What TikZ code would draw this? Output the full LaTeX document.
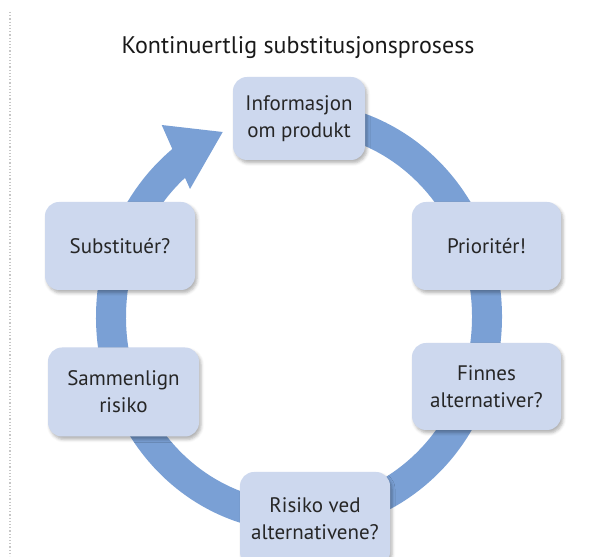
\documentclass[tikz,border=0pt]{standalone}
\usepackage{fontspec}
\setmainfont{PT Sans}
\usetikzlibrary{shadows.blur}
\definecolor{bandblue}{RGB}{122,160,213}
\definecolor{boxfill}{RGB}{205,216,238}
\begin{document}
\begin{tikzpicture}[x=1pt,y=1pt,
  stage/.style={draw=none, fill=boxfill, rounded corners=14pt, align=center,
    inner sep=0pt, font=\fontsize{21}{27}\selectfont, text=black!85,
    blur shadow={shadow xshift=2pt, shadow yshift=-3pt, shadow blur radius=3pt, shadow opacity=30}},
  band/.style={draw=bandblue, line width=30pt}]
\useasboundingbox (0,0) rectangle (606,557);
\coordinate (ltop) at (10,545);
\coordinate (lbot) at (10,1);
\draw[gray!45, dotted, line width=1.2pt] (ltop) -- (lbot);
\node[font=\fontsize{24}{28}\selectfont, text=black!90] (title) at (298,509) {Kontinuertlig substitusjonsprosess};
\coordinate (c) at (299,240);
\draw[band] ([shift={(126:188 and 200)}]c) arc[start angle=126, end angle=440, x radius=188, y radius=200];
\coordinate (wingA) at (161.7,432);
\coordinate (tip) at (222.7,425);
\coordinate (wingB) at (190,368);
\fill[bandblue] (wingA) -- (tip) -- (wingB) -- cycle;
\node[stage, minimum width=132pt, minimum height=83pt] (info) at (299,438.5) {Informasjon\\om produkt};
\node[stage, minimum width=149pt, minimum height=88pt] (prio) at (486.5,311) {Priorit\'er!};
\node[stage, minimum width=149pt, minimum height=87pt] (finnes) at (486.5,170.5) {Finnes\\alternativer?};
\node[stage, minimum width=150pt, minimum height=94pt] (risiko) at (315,38) {Risiko ved\\alternativene?};
\node[stage, minimum width=151pt, minimum height=89pt] (samm) at (123.5,165) {Sammenlign\\risiko};
\node[stage, minimum width=150pt, minimum height=88pt] (subst) at (120,311) {Substitu\'er?};
\end{tikzpicture}
\end{document}
